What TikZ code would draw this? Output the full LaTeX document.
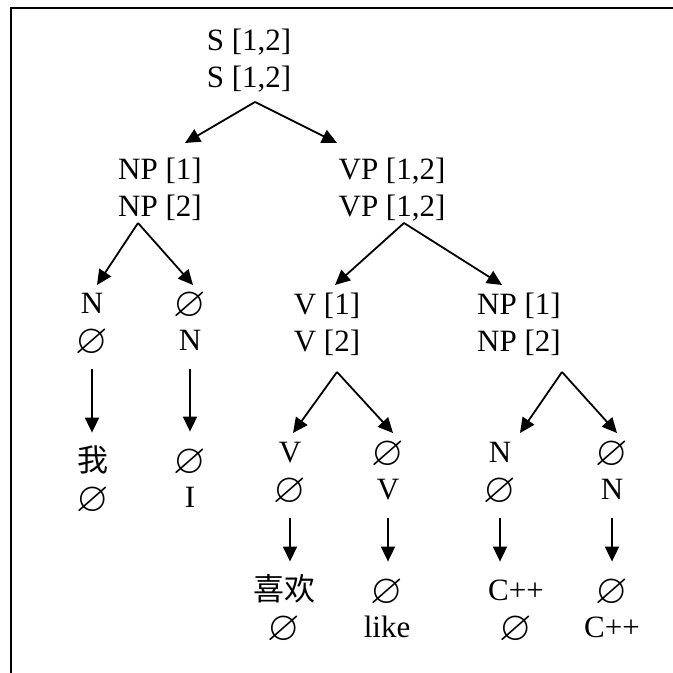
\documentclass[tikz,border=0pt]{standalone}
\usepackage{amssymb}
\usepackage{fontspec}
\setmainfont{Liberation Serif}
\newfontfamily\cjk{Noto Sans CJK SC}
\usetikzlibrary{arrows.meta}

% Empty element and two-line labels
\newcommand{\noword}{\raisebox{-1.5pt}{\smash{\scalebox{1.35}{$\varnothing$}}}}
\newcommand{\twolines}[2]{#1\strut\\#2\strut}

\tikzset{
	label text/.style={align=center, inner sep=0pt, font=\fontsize{15.5}{18.5}\selectfont},
	branch/.style={-{Triangle[length=7.5pt,width=7pt]}, line width=0.9pt},
	down/.style={branch, shorten <=3.5pt, shorten >=6.5pt}
}

\begin{document}
\begin{tikzpicture}[x=0.5pt,y=-0.5pt]
\useasboundingbox (0,0) rectangle (673,673);

% Frame along the top and the left side
\draw [line width=0.9pt] (11,673)--(11,8)--(673,8);

% Inner nodes of the tree
\node [label text] (S) at (249,62) {\twolines{S [1,2]}{S [1,2]}};
\node [label text] (NPa) at (160,191) {\twolines{NP [1]}{NP [2]}};
\node [label text] (VP) at (392,191) {\twolines{VP [1,2]}{VP [1,2]}};
\node [label text] (V) at (327,326) {\twolines{V [1]}{V [2]}};
\node [label text] (NPb) at (519,326) {\twolines{NP [1]}{NP [2]}};

% Pre-terminals
\node [label text] (Na) at (92,325) {\twolines{N}{\noword}};
\node [label text] (Nb) at (190,325) {\twolines{\noword}{N}};
\node [label text] (Va) at (290,474) {\twolines{V}{\noword}};
\node [label text] (Vb) at (388,474) {\twolines{\noword}{V}};
\node [label text] (Nc) at (500,474) {\twolines{N}{\noword}};
\node [label text] (Nd) at (612,474) {\twolines{\noword}{N}};

% Words
\node [label text] (wo) at (93,483) {\twolines{\cjk 我}{\noword}};
\node [label text] (I) at (190,482) {\twolines{\noword}{I}};
\node [label text] (xihuan) at (284,612) {\twolines{\cjk 喜欢}{\noword}};
\node [label text] (like) at (387,612) {\twolines{\noword}{like}};
\node [label text] (cppa) at (516,612) {\twolines{C++}{\noword}};
\node [label text] (cppb) at (612,612) {\twolines{\noword}{C++}};

% Fork points below the parents
\coordinate (S-fork) at (255,102);
\coordinate (NPa-fork) at (138,223);
\coordinate (VP-fork) at (404,223);
\coordinate (V-fork) at (337,372);
\coordinate (NPb-fork) at (562,372);

% Arrow tips above the children
\coordinate (NPa-tip) at (185,143);
\coordinate (VP-tip) at (337,143);
\coordinate (Na-tip) at (97,285);
\coordinate (Nb-tip) at (193,285);
\coordinate (V-tip) at (335,285);
\coordinate (NPb-tip) at (502,285);
\coordinate (Va-tip) at (293,433);
\coordinate (Vb-tip) at (393,433);
\coordinate (Nc-tip) at (520,433);
\coordinate (Nd-tip) at (617,433);

% Branching arrows
\foreach \a/\b in {S/NPa,S/VP,NPa/Na,NPa/Nb,VP/V,VP/NPb,V/Va,V/Vb,NPb/Nc,NPb/Nd}
	\draw [branch] (\a-fork)--(\b-tip);

% Arrows from pre-terminals straight down to the words
\foreach \a/\b in {Na/wo,Nb/I,Va/xihuan,Vb/like,Nc/cppa,Nd/cppb}
	\draw [down] (\a.south)--(\a.south |- \b.north);
\end{tikzpicture}
\end{document}
